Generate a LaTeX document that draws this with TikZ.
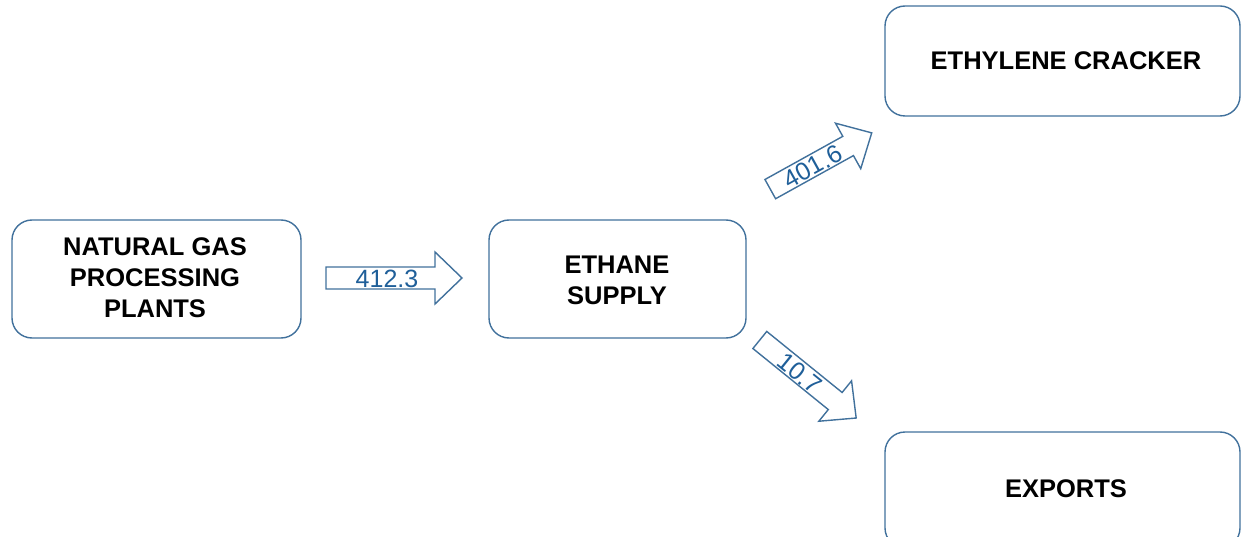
\documentclass[tikz,border=0pt]{standalone}
\usepackage{fontspec}
\setmainfont{Liberation Sans}
\definecolor{boxblue}{RGB}{65,113,156}
\definecolor{numblue}{RGB}{31,95,153}
\begin{document}
\begin{tikzpicture}[x=1pt,y=-1pt,
  box/.style={draw=boxblue, line width=1.4pt, rounded corners=20pt, fill=white},
  lbl/.style={font=\bfseries\fontsize{25.5}{31}\selectfont, align=center, text=black},
  arr/.style={draw=boxblue, line width=1.4pt, fill=white, line join=miter},
  num/.style={font=\fontsize{25}{28}\selectfont, text=numblue, inner sep=0pt}]
\useasboundingbox (0,0) rectangle (1242,537);
\begin{scope}
\clip (0,0) rectangle (1242,537);
\draw[box] (12,220) rectangle (301,338);
\draw[box] (489,220) rectangle (746,338);
\draw[box] (885,6) rectangle (1240,116);
\draw[box] (885,432) rectangle (1240,548);
\end{scope}
\node[lbl] (ngp) at (155,278) {NATURAL GAS\\PROCESSING\\PLANTS};
\node[lbl] (eth) at (617,280) {ETHANE\\SUPPLY};
\node[lbl] (crk) at (1066,61) {ETHYLENE CRACKER};
\node[lbl] (exp) at (1066,489) {EXPORTS};
% arrow 412.3
\begin{scope}[shift={(394,278)}]
\draw[arr] (-68,-11) -- (41,-11) -- (41,-26) -- (68,0) -- (41,26) -- (41,11) -- (-68,11) -- cycle;
\node[num] (v1) at (-7,1) {412.3};
\end{scope}
% arrow 401.6
\begin{scope}[shift={(821,161)}, rotate=29, transform shape]
\draw[arr] (-58,-11) -- (31,-11) -- (31,-26) -- (58,0) -- (31,26) -- (31,11) -- (-58,11) -- cycle;
\node[num] (v2) at (-10,1) {401.6};
\end{scope}
% arrow 10.7
\begin{scope}[shift={(808,379)}, rotate=-39, transform shape]
\draw[arr] (-62,-11) -- (35,-11) -- (35,-26) -- (62,0) -- (35,26) -- (35,11) -- (-62,11) -- cycle;
\node[num] (v3) at (-10,1) {10.7};
\end{scope}
\end{tikzpicture}
\end{document}
